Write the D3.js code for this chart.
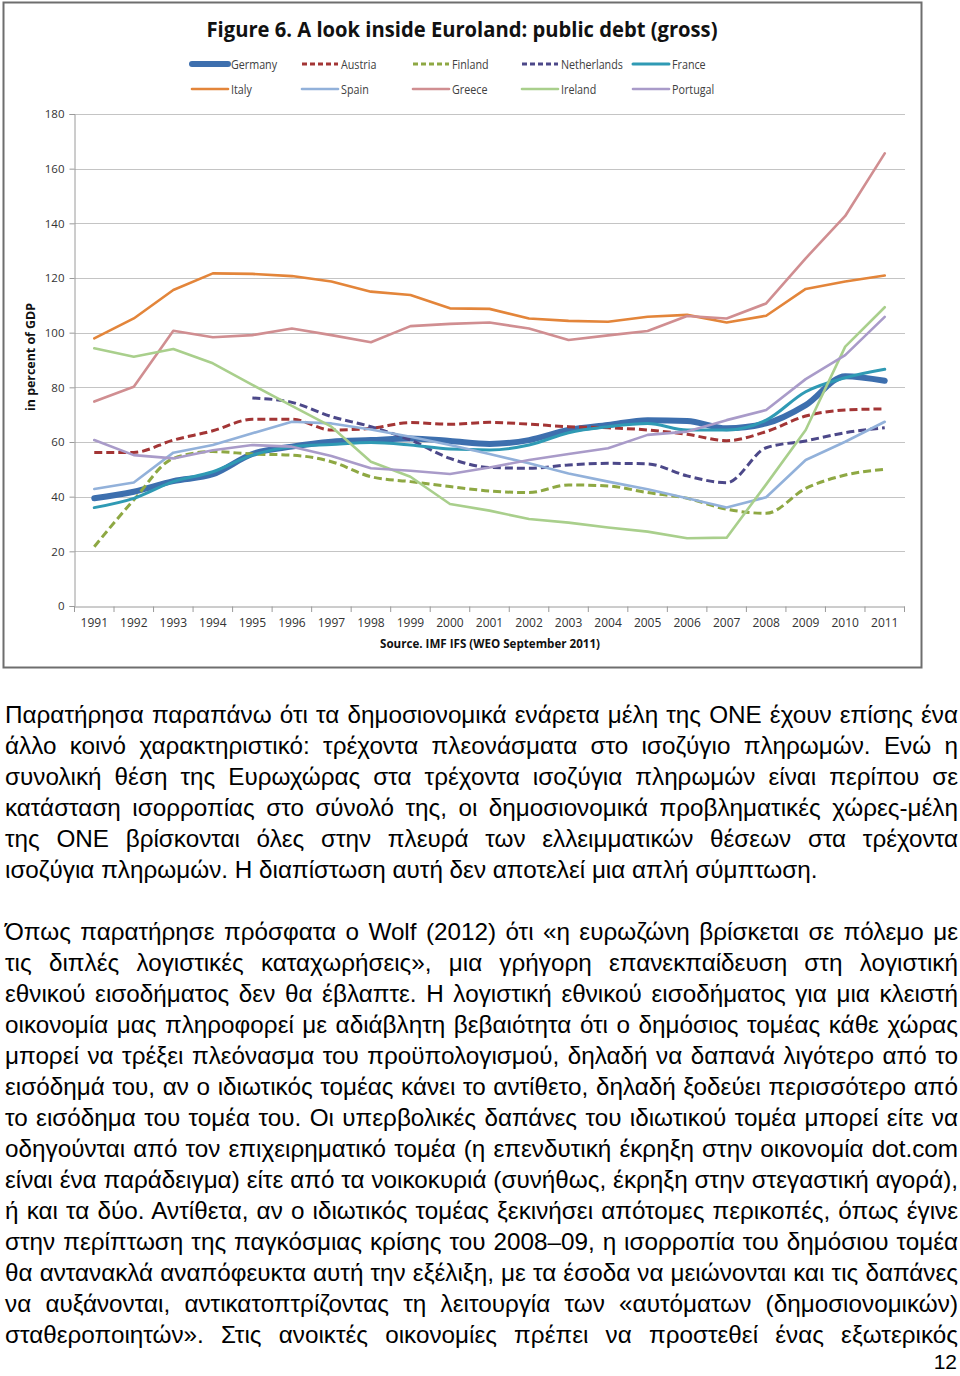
<!DOCTYPE html>
<html><head><meta charset="utf-8">
<script src="https://cdn.jsdelivr.net/npm/d3@7"></script>
<style>html,body{margin:0;padding:0;background:#fff;}svg{display:block;}</style>
</head><body>
<script>
const years = ["1991","1992","1993","1994","1995","1996","1997","1998","1999","2000","2001","2002","2003","2004","2005","2006","2007","2008","2009","2010","2011"];
const yTicks = [0,20,40,60,80,100,120,140,160,180];
const germany = [39.4,41.8,45.7,48.2,55.6,58.3,60.1,60.7,61.3,60.4,59.3,60.7,64.4,66.2,68.0,67.7,65.0,66.8,73.5,84.1,82.4];
const austria = [56.2,56.2,60.7,64.1,68.3,68.3,64.4,65.0,67.1,66.5,67.2,66.5,65.6,65.2,64.4,62.8,60.5,63.8,69.5,71.7,72.1];
const finland = [21.7,38.8,54.0,56.5,55.6,55.2,52.8,47.3,45.5,43.7,42.1,41.5,44.3,43.9,41.5,39.4,35.4,33.9,43.0,47.9,50.0];
const netherlands = [null,null,null,null,76.1,74.5,69.3,65.6,60.7,54.0,50.7,50.4,51.6,52.2,52.0,47.6,45.1,57.9,60.4,63.4,65.2];
const france = [36.0,39.4,45.5,49.1,55.2,58.3,59.1,59.8,58.9,57.4,57.1,58.9,63.4,65.6,66.8,64.4,64.4,68.0,78.4,83.5,86.6];
const italy = [97.9,105.2,115.6,121.7,121.5,120.7,118.7,115.0,113.8,108.9,108.7,105.2,104.3,104.0,105.8,106.5,103.7,106.2,116.0,118.7,120.9];
const spain = [42.8,45.2,56.1,58.9,63.2,67.4,66.8,64.6,61.9,58.9,55.6,52.2,48.5,45.5,42.7,39.4,36.0,39.8,53.4,60.1,67.4];
const greece = [74.8,80.2,100.7,98.3,99.1,101.5,99.1,96.5,102.4,103.2,103.7,101.5,97.3,99.0,100.6,106.1,105.2,110.7,127.2,142.7,165.6];
const ireland = [94.3,91.2,94.0,88.8,80.9,73.2,65.6,52.8,47.3,37.3,34.9,31.8,30.5,28.7,27.2,24.8,25.0,44.5,64.4,94.9,109.3];
const portugal = [60.7,55.2,54.0,57.0,58.9,58.3,54.9,50.4,49.5,48.3,50.7,53.4,55.6,57.7,62.6,63.8,68.0,71.7,83.0,91.8,105.8];

const seriesNames = ["Germany","Austria","Finland","Netherlands","France","Italy","Spain","Greece","Ireland","Portugal"];
const seriesValues = [germany,austria,finland,netherlands,france,italy,spain,greece,ireland,portugal];

const title = "Figure 6. A look inside Euroland: public debt (gross)";
const yTitle = "in percent of GDP";
const source = "Source. IMF IFS (WEO September 2011)";

const para1 = [
"Παρατήρησα παραπάνω ότι τα δημοσιονομικά ενάρετα μέλη της ΟΝΕ έχουν επίσης ένα",
"άλλο κοινό χαρακτηριστικό: τρέχοντα πλεονάσματα στο ισοζύγιο πληρωμών. Ενώ η",
"συνολική θέση της Ευρωχώρας στα τρέχοντα ισοζύγια πληρωμών είναι περίπου σε",
"κατάσταση ισορροπίας στο σύνολό της, οι δημοσιονομικά προβληματικές χώρες-μέλη",
"της ΟΝΕ βρίσκονται όλες στην πλευρά των ελλειμματικών θέσεων στα τρέχοντα",
"ισοζύγια πληρωμών. Η διαπίστωση αυτή δεν αποτελεί μια απλή σύμπτωση."
];
const para2 = [
"Όπως παρατήρησε πρόσφατα ο Wolf (2012) ότι «η ευρωζώνη βρίσκεται σε πόλεμο με",
"τις διπλές λογιστικές καταχωρήσεις», μια γρήγορη επανεκπαίδευση στη λογιστική",
"εθνικού εισοδήματος δεν θα έβλαπτε. Η λογιστική εθνικού εισοδήματος για μια κλειστή",
"οικονομία μας πληροφορεί με αδιάβλητη βεβαιότητα ότι ο δημόσιος τομέας κάθε χώρας",
"μπορεί να τρέξει πλεόνασμα του προϋπολογισμού, δηλαδή να δαπανά λιγότερο από το",
"εισόδημά του, αν ο ιδιωτικός τομέας κάνει το αντίθετο, δηλαδή ξοδεύει περισσότερο από",
"το εισόδημα του τομέα του. Οι υπερβολικές δαπάνες του ιδιωτικού τομέα μπορεί είτε να",
"οδηγούνται από τον επιχειρηματικό τομέα (η επενδυτική έκρηξη στην οικονομία dot.com",
"είναι ένα παράδειγμα) είτε από τα νοικοκυριά (συνήθως, έκρηξη στην στεγαστική αγορά),",
"ή και τα δύο. Αντίθετα, αν ο ιδιωτικός τομέας ξεκινήσει απότομες περικοπές, όπως έγινε",
"στην περίπτωση της παγκόσμιας κρίσης του 2008–09, η ισορροπία του δημόσιου τομέα",
"θα αντανακλά αναπόφευκτα αυτή την εξέλιξη, με τα έσοδα να μειώνονται και τις δαπάνες",
"να αυξάνονται, αντικατοπτρίζοντας τη λειτουργία των «αυτόματων (δημοσιονομικών)",
"σταθεροποιητών». Στις ανοικτές οικονομίες πρέπει να προστεθεί ένας εξωτερικός"
];
const pageNum = "12";

const styles = {
  Germany:     {color:"#3d6fae", width:6,   dash:null,  curve:"smooth"},
  Austria:     {color:"#a33535", width:3,   dash:"8,4", curve:"smooth"},
  Finland:     {color:"#8ea843", width:3,   dash:"8,4", curve:"smooth"},
  Netherlands: {color:"#4c4889", width:3,   dash:"8,4", curve:"smooth"},
  France:      {color:"#2f9ab4", width:3,   dash:null,  curve:"smooth"},
  Italy:       {color:"#e3853a", width:2.6, dash:null,  curve:"linear"},
  Spain:       {color:"#92b1da", width:2.6, dash:null,  curve:"linear"},
  Greece:      {color:"#d08e91", width:2.6, dash:null,  curve:"linear"},
  Ireland:     {color:"#a9cf8c", width:2.6, dash:null,  curve:"linear"},
  Portugal:    {color:"#a99bc9", width:2.6, dash:null,  curve:"linear"}
};

const W = 960, H = 1376;
const svg = d3.select("body").append("svg").attr("width",W).attr("height",H);

svg.append("rect").attr("x",3.5).attr("y",2.5).attr("width",918).attr("height",665)
  .attr("fill","#fff").attr("stroke","#6e6e6e").attr("stroke-width",2);

svg.append("text").attr("x",462).attr("y",37).attr("text-anchor","middle")
  .attr("font-family","'Open Sans', sans-serif").attr("font-weight","bold")
  .attr("font-size",21).attr("fill","#111").attr("textLength",511).attr("lengthAdjust","spacingAndGlyphs")
  .text(title);

const x = d3.scaleBand().domain(years).range([74.5, 904.5]).padding(0);
const y = d3.scaleLinear().domain([0,180]).range([606,114]);
const cx = d => x(d) + x.bandwidth()/2;

svg.append("g").selectAll("line").data(yTicks.filter(t=>t>0)).join("line")
  .attr("x1",74.5).attr("x2",905).attr("y1",d=>Math.round(y(d))+0.5).attr("y2",d=>Math.round(y(d))+0.5)
  .attr("stroke","#c4c4c4").attr("stroke-width",1.2);

const yAxis = svg.append("g").attr("transform","translate(74.5,0)")
  .call(d3.axisLeft(y).tickValues(yTicks).tickSize(5).tickPadding(5));
yAxis.select(".domain").attr("stroke","#9a9a9a");
yAxis.selectAll(".tick line").attr("stroke","#9a9a9a");
yAxis.selectAll(".tick text").attr("font-family","'Open Sans', sans-serif").attr("font-size",11.5).attr("fill","#333");

const xAxis = svg.append("g").attr("transform","translate(0,606.5)")
  .call(d3.axisBottom(x).tickSize(0).tickPadding(12));
xAxis.select(".domain").attr("stroke","#9a9a9a");
xAxis.selectAll(".tick text").attr("font-family","'Open Sans', sans-serif").attr("font-size",12).attr("fill","#333");
svg.append("g").selectAll("line").data(years.concat(["end"])).join("line")
  .attr("x1",(d,i)=>74.5 + i*x.bandwidth()).attr("x2",(d,i)=>74.5 + i*x.bandwidth())
  .attr("y1",606.5).attr("y2",612).attr("stroke","#9a9a9a");

svg.append("text").attr("transform","translate(35,357) rotate(-90)").attr("text-anchor","middle")
  .attr("font-family","'Open Sans', sans-serif").attr("font-weight","bold").attr("font-size",11.5).attr("fill","#111")
  .attr("textLength",108).attr("lengthAdjust","spacingAndGlyphs")
  .text(yTitle);

svg.append("text").attr("x",490).attr("y",648).attr("text-anchor","middle")
  .attr("font-family","'Open Sans', sans-serif").attr("font-weight","bold").attr("font-size",11.5).attr("fill","#111")
  .attr("textLength",220).attr("lengthAdjust","spacingAndGlyphs")
  .text(source);

const lineGen = (curve) => d3.line()
  .defined(d => d.v !== null)
  .x(d => cx(d.year)).y(d => y(d.v))
  .curve(curve === "smooth" ? d3.curveMonotoneX : d3.curveLinear);

const plot = svg.append("g");
seriesNames.forEach((name, si) => {
  const st = styles[name];
  const pts = years.map((yr,i)=>({year:yr, v:seriesValues[si][i]}));
  plot.append("path").datum(pts)
    .attr("d", lineGen(st.curve))
    .attr("fill","none").attr("stroke",st.color).attr("stroke-width",st.width)
    .attr("stroke-dasharray",st.dash).attr("stroke-linejoin","round").attr("stroke-linecap", st.dash ? "butt" : "round");
});

const legCols = [192, 302, 413, 522, 633];
const legRows = [64, 89];
const leg = svg.append("g");
seriesNames.forEach((name, i) => {
  const st = styles[name];
  const lx = legCols[i % 5], ly = legRows[Math.floor(i/5)];
  leg.append("line").attr("x1",lx).attr("x2",lx+36).attr("y1",ly).attr("y2",ly)
    .attr("stroke",st.color).attr("stroke-width",st.width).attr("stroke-dasharray",st.dash ? "5,3" : null)
    .attr("stroke-linecap", st.dash ? "butt" : "round");
  leg.append("text").attr("transform",`translate(${lx+39},${ly+4.5}) scale(0.86,1)`)
    .attr("font-family","'Open Sans', sans-serif").attr("font-size",12.5).attr("fill","#404040")
    .text(name);
});

// body text
const bodyFont = "'Liberation Sans', Arial, sans-serif";
const left = 5, right = 958;
const body = svg.append("g");

function measure(str, size){
  const t = body.append("text").attr("font-family",bodyFont).attr("font-size",size).text(str);
  const w = t.node().getComputedTextLength();
  t.remove();
  return w;
}
const fs = 22 * (818 - left) / measure(para1[5], 22);

function drawLine(str, baseline, justify){
  const words = str.split(" ");
  const natural = measure(str, fs);
  let ws = 0, sx = 1;
  if (justify && words.length > 1) {
    ws = ((right-left) - natural) / (words.length - 1);
    if (ws < 0) { sx = (right-left)/natural; ws = 0; }
  }
  body.append("text").attr("transform",`translate(${left},${baseline}) scale(${sx},1)`)
    .attr("font-family",bodyFont).attr("font-size",fs).attr("fill","#000")
    .attr("word-spacing", ws)
    .text(str);
}
para1.forEach((l,i)=>drawLine(l, 723 + i*31, i < para1.length-1));
para2.forEach((l,i)=>drawLine(l, 940 + i*31, true));

svg.append("text").attr("x",957).attr("y",1369).attr("text-anchor","end")
  .attr("font-family",bodyFont).attr("font-size",21).attr("fill","#000").text(pageNum);
</script>
</body></html>
